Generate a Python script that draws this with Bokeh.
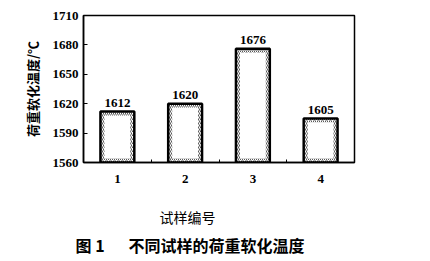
from bokeh.plotting import figure
from bokeh.models import FixedTicker, Range1d, Title
from bokeh.core.properties import value
from bokeh.embed import file_html
from bokeh.resources import INLINE

# Load-softening temperature of each sample
samples = [1, 2, 3, 4]
temps = [1612, 1620, 1676, 1605]
y_ticks = [1560, 1590, 1620, 1650, 1680, 1710]

SERIF = "Liberation Serif"
CJK = "Noto Sans CJK SC"

p = figure(width=430, height=261, output_backend="svg", toolbar_location=None,
           x_range=Range1d(0.5, 4.5), y_range=Range1d(1560, 1710),
           min_border_left=83, min_border_right=76, min_border_top=15,
           min_border_bottom=0)
p.outline_line_color = "black"
p.outline_line_width = 1.5
p.xgrid.visible = False
p.ygrid.visible = False

# Bars: hatched border band with a plain inner panel
p.vbar(x=samples, top=temps, bottom=1560, width=0.5, fill_color="white",
       line_color="black", line_width=2.5, hatch_pattern="/",
       hatch_color="black", hatch_alpha=0.65, hatch_scale=4, hatch_weight=1)
p.vbar(x=samples, top=[t - 4 for t in temps], bottom=1564, width=0.38,
       fill_color="white", line_color=None)

# Value labels above bars
p.text(x=samples, y=[t + 5 for t in temps], text=[str(t) for t in temps],
       text_align="center", text_baseline="bottom",
       text_font=value(SERIF), text_font_size="13px", text_font_style="bold",
       text_color="black")

# Axes
p.xaxis.ticker = FixedTicker(ticks=samples, minor_ticks=[1.5, 2.5, 3.5])
p.xaxis.major_tick_out = 0
p.xaxis.major_tick_in = 0
p.xaxis.minor_tick_in = 3
p.xaxis.minor_tick_out = 0
p.xaxis.axis_line_width = 1.5
p.xaxis.major_label_standoff = 12
p.xaxis.major_label_text_font = SERIF
p.xaxis.major_label_text_font_size = "13px"
p.xaxis.major_label_text_font_style = "bold"
p.xaxis.major_label_text_color = "black"
# trailing wide spaces shift the centred title to the left
p.xaxis.axis_label = "试样编号\u3000\u3000\u3000\u3000\u2002"
p.xaxis.axis_label_text_font = CJK
p.xaxis.axis_label_text_font_size = "14px"
p.xaxis.axis_label_text_font_style = "normal"
p.xaxis.axis_label_text_color = "black"
p.xaxis.axis_label_standoff = 21

p.yaxis.ticker = FixedTicker(ticks=y_ticks, minor_ticks=[])
p.yaxis.major_tick_out = 0
p.yaxis.major_tick_in = 4
p.yaxis.axis_line_width = 1.5
p.yaxis.major_label_standoff = 5
p.yaxis.major_label_text_font = SERIF
p.yaxis.major_label_text_font_size = "13px"
p.yaxis.major_label_text_font_style = "bold"
p.yaxis.major_label_text_color = "black"
p.yaxis.axis_label = "荷重软化温度/℃"
p.yaxis.axis_label_text_font = CJK
p.yaxis.axis_label_text_font_size = "13px"
p.yaxis.axis_label_text_font_style = "bold"
p.yaxis.axis_label_text_color = "black"
p.yaxis.axis_label_standoff = 8

# Figure caption below the plot
p.add_layout(Title(text="图\u00a01\u2003\u2002不同试样的荷重软化温度",
                   text_font=CJK, text_font_size="16px",
                   text_font_style="bold", text_color="black", align="left",
                   offset=-8, standoff=2), "below")
# thin spacer under the caption
p.add_layout(Title(text="\u00a0", text_font_size="2px", standoff=0), "below")

open("out.html", "w").write(file_html(p, INLINE))
